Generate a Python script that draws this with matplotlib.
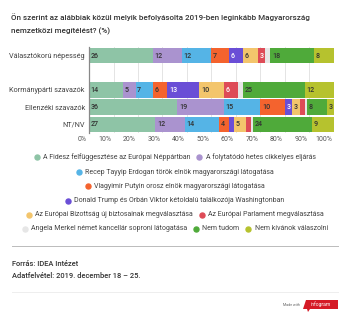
import matplotlib
matplotlib.use('Agg')
import matplotlib.pyplot as plt
import matplotlib.transforms as mtrans
from matplotlib.lines import Line2D
from matplotlib.patches import Polygon

plt.rcParams['font.family'] = ['Roboto', 'DejaVu Sans']

W, H = 350, 322

categories = ['Választókorú népesség', '', 'Kormánypárti szavazók', 'Ellenzéki szavazók', 'NT/NV']
series_names = [
    'A Fidesz felfüggesztése az Európai Néppártban',
    'A folytatódó hetes cikkelyes eljárás',
    'Recep Tayyip Erdogan török elnök magyarországi látogatása',
    'Vlagyimir Putyin orosz elnök magyarországi látogatása',
    'Donald Trump és Orbán Viktor kétoldalú találkozója Washingtonban',
    'Az Európai Bizottság új biztosainak megválasztása',
    'Az Európai Parlament megválasztása',
    'Angela Merkel német kancellár soproni látogatása',
    'Nem tudom',
    'Nem kívánok válaszolni',
]
fidesz = [26, 0, 14, 36, 27]
folytatodo = [12, 0, 5, 19, 12]
erdogan = [12, 0, 7, 15, 14]
putyin = [7, 0, 6, 10, 4]
trump = [6, 0, 13, 3, 2]
bizottsag = [6, 0, 10, 3, 5]
parlament = [3, 0, 6, 2, 2]
merkel = [2, 0, 2, 1, 1]
nem_tudom = [18, 0, 25, 8, 24]
nem_kivanok = [8, 0, 12, 3, 9]
values = [fidesz, folytatodo, erdogan, putyin, trump, bizottsag, parlament,
          merkel, nem_tudom, nem_kivanok]
colors = ['#8ec4a6', '#aa93cf', '#55b4e6', '#f4632e', '#6a4ed6', '#f3c56c',
          '#de4b57', '#e6e6e6', '#4faa3a', '#b6c22e']
white_text = [False, False, False, False, True, False, True, False, False, False]
xticks = [0, 10, 20, 30, 40, 50, 60, 70, 80, 90, 100]
legend_rows = [[0, 1], [2], [3], [4], [5, 6], [7, 8, 9]]
legend_y = [157, 172, 186, 201, 215, 229]


def fx(x):
    return x / W


def fy(y):
    return 1 - y / H


fig = plt.figure(figsize=(3.5, 3.22), dpi=100)
fig.patch.set_facecolor('white')

# title
fig.text(fx(11), fy(17), 'Ön szerint az alábbiak közül melyik befolyásolta 2019-ben leginkább Magyarország',
         fontsize=5.8, fontweight='medium', color='#333333', va='center')
fig.text(fx(11), fy(31), 'nemzetközi megítélést? (%)',
         fontsize=5.8, fontweight='medium', color='#333333', va='center')

# bars
top, bot = 47.1, 132.9
ax = fig.add_axes([fx(89), fy(bot), (334 - 89) / W, (bot - top) / H])
ypos = list(range(len(categories)))
left = [0] * len(categories)
for vals, col, wt in zip(values, colors, white_text):
    ax.barh(ypos, vals, left=left, height=0.9, color=col, linewidth=0)
    for i, v in enumerate(vals):
        if v >= 3:
            ax.text(left[i] + 0.7, i, str(v), va='center', ha='left', fontsize=5.1,
                    fontweight='medium', color='white' if wt else '#333333')
    left = [a + b for a, b in zip(left, vals)]

ax.set_xlim(0, 100)
ax.set_ylim(len(categories) - 0.5, -0.5)
ax.set_xticks(xticks)
ax.set_xticklabels([f'{t}%' for t in xticks], fontsize=5, color='#555555',
                   ha='right')
ax.set_yticks(ypos)
ax.set_yticklabels(categories, fontsize=5.2, color='#444444')
ax.tick_params(length=0, pad=3)
ax.tick_params(axis='x', pad=2.5)
shift = mtrans.ScaledTranslation(-2 / 100, 0, fig.dpi_scale_trans)
for lab in ax.get_xticklabels():
    lab.set_transform(lab.get_transform() + shift)
ax.grid(axis='x', color='#e4e4e4', linewidth=0.7)
ax.set_axisbelow(True)
for s in ['top', 'right', 'bottom']:
    ax.spines[s].set_visible(False)
ax.spines['left'].set_color('#888888')
ax.spines['left'].set_linewidth(0.9)

# legend, built row by row and centred
fig.canvas.draw()
r = fig.canvas.get_renderer()
for row, yy in zip(legend_rows, legend_y):
    items = []
    total = 0
    for k in row:
        t = fig.text(0, fy(yy), series_names[k], fontsize=5, color='#444444', va='center')
        w = t.get_window_extent(r).width
        items.append((k, t, w))
        total += 5 + 4 + w
    total += 6 * (len(row) - 1)
    x = 175 - total / 2
    for k, t, w in items:
        fig.add_artist(Line2D([fx(x + 2.5)], [fy(yy)], marker='o', markersize=3.6,
                              color=colors[k], linestyle='none',
                              transform=fig.transFigure))
        t.set_x(fx(x + 9))
        x += 9 + w + 6

# footer
fig.add_artist(Line2D([fx(12), fx(338)], [fy(246), fy(246)], color='#bbbbbb',
                      linewidth=0.7, transform=fig.transFigure))
fig.text(fx(12), fy(264), 'Forrás: IDEA Intézet', fontsize=5.4, fontweight='medium',
         color='#333333', va='center')
fig.text(fx(12), fy(275.5), 'Adatfelvétel: 2019. december 18 – 25.', fontsize=5.4,
         fontweight='medium', color='#333333', va='center')
fig.add_artist(Line2D([fx(12), fx(338)], [fy(292), fy(292)], color='#eeeeee',
                      linewidth=0.7, transform=fig.transFigure))
fig.text(fx(300), fy(304.5), 'Made with', fontsize=2.6, color='#666666',
         va='center', ha='right')
fig.add_artist(Polygon([(fx(306), fy(300)), (fx(338), fy(300)), (fx(338), fy(309)),
                        (fx(310), fy(309)), (fx(308), fy(312)), (fx(307), fy(309)),
                        (fx(303), fy(309))],
                       closed=True, facecolor='#d51a26', edgecolor='none',
                       transform=fig.transFigure))
fig.text(fx(321), fy(304.5), 'infogram', fontsize=3.6, color='white',
         va='center', ha='center')

fig.savefig('out.png', dpi=100, facecolor='white')
